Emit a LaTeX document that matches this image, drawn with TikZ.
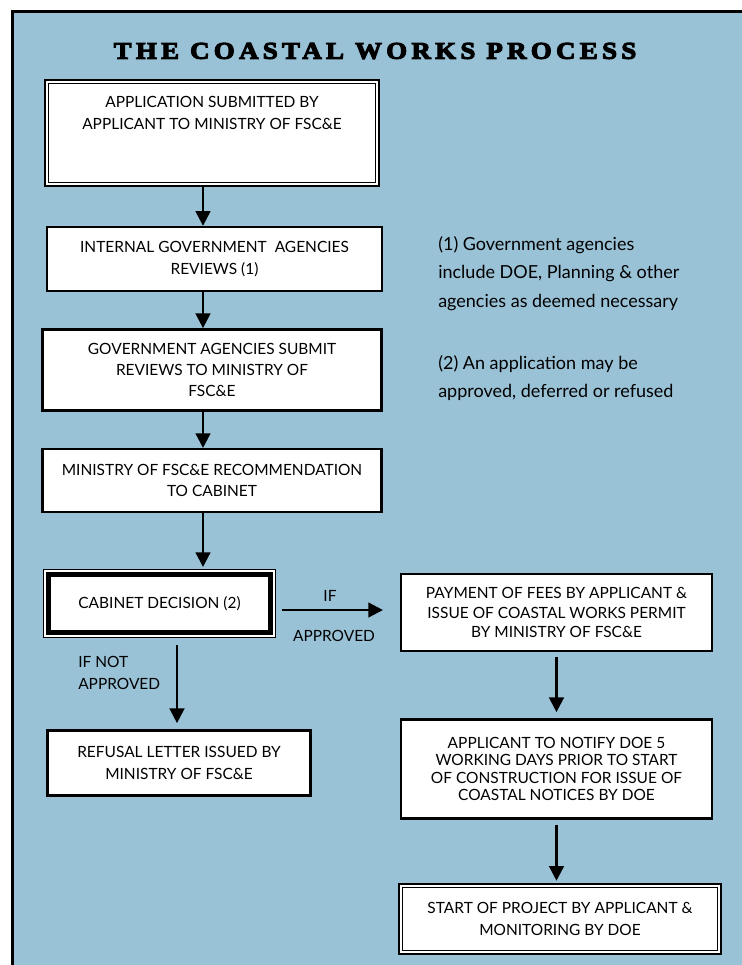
\documentclass[tikz,border=0pt]{standalone}
\usepackage{fontspec}
\setmainfont{Lato}
\newfontfamily\titlefont[LetterSpace=18,FakeStretch=1.12,BoldFeatures={FakeBold=4.5}]{Liberation Serif}
\usetikzlibrary{arrows.meta,positioning}
\definecolor{seablue}{RGB}{154,194,214}

\tikzset{
	procbox/.style={draw, fill=white, line width=1.8pt, align=center, inner sep=0pt, font=\fontsize{11.6}{16}\selectfont},
	twinbox/.style={procbox, line width=1.4pt, double=white, double distance=1.4pt},
	flowarrow/.style={line width=1.8pt, -{Triangle[width=11pt,length=11pt]}},
	lbl/.style={inner sep=0pt, font=\fontsize{11.6}{16.5}\selectfont},
	note/.style={inner sep=0pt, align=left, font=\fontsize{13.5}{21.4}\selectfont},
}

\begin{document}
\begin{tikzpicture}[x=0.75pt, y=-0.75pt]
		\clip (0,0) rectangle (742,965);
		\fill[seablue] (12.5,11.5) rectangle (760,980);
		\draw[line width=2pt] (12.5,980) -- (12.5,11.5) -- (760,11.5);
		\node (title) at (375,51) {\titlefont\bfseries\fontsize{18}{20}\selectfont THE COASTAL WORKS PROCESS};
		% left column
		\node [twinbox, minimum width=248pt, minimum height=77pt] (app) at (212,133) {APPLICATION SUBMITTED BY\\APPLICANT TO MINISTRY OF FSC\&E\\[9.5pt]\strut};
		\node [procbox, minimum width=251pt, minimum height=48pt] (internal) at (214.5,259) {INTERNAL GOVERNMENT\ \ AGENCIES\\REVIEWS (1)};
		\node [procbox, minimum width=254.5pt, minimum height=61pt] (submit) at (212,370) {GOVERNMENT AGENCIES SUBMIT\\REVIEWS TO MINISTRY OF\\FSC\&E};
		\node [procbox, minimum width=254.5pt, minimum height=47pt] (recommend) at (212,480.5) {MINISTRY OF FSC\&E RECOMMENDATION\\TO CABINET};
		\node [procbox, line width=0.8pt, minimum width=174pt, minimum height=51pt] (cabinet) at (159.5,603.5) {CABINET DECISION (2)};
		\draw [line width=3.75pt] ([shift={(4.15pt,4.15pt)}]cabinet.south west) rectangle ([shift={(-4.15pt,-4.15pt)}]cabinet.north east);
		\node [procbox, minimum width=197.5pt, minimum height=49pt] (refusal) at (179,763) {REFUSAL LETTER ISSUED BY\\MINISTRY OF FSC\&E};
		% right column
		\node [procbox, minimum width=233pt, minimum height=57.5pt, font=\fontsize{11.6}{14.6}\selectfont] (payment) at (556.5,612.5) {PAYMENT OF FEES BY APPLICANT \&\\ISSUE OF COASTAL WORKS PERMIT\\BY MINISTRY OF FSC\&E};
		\node [procbox, minimum width=233pt, minimum height=74.5pt, font=\fontsize{11.6}{13.2}\selectfont] (notify) at (556.5,769) {APPLICANT TO NOTIFY DOE 5\\WORKING DAYS PRIOR TO START\\OF CONSTRUCTION FOR ISSUE OF\\COASTAL NOTICES BY DOE};
		\node [twinbox, minimum width=239pt, minimum height=50pt] (start) at (560,919) {START OF PROJECT BY APPLICANT \&\\MONITORING BY DOE};
		% notes
		\node [note, anchor=north west] (note1) at (438,236) {(1) Government agencies\\include DOE, Planning \& other\\agencies as deemed necessary};
		\node [note, anchor=north west] (note2) at (438,355) {(2) An application may be\\approved, deferred or refused};
		% arrows
		\coordinate (spine) at (203,0);
		\coordinate (nopath) at (177,0);
		\coordinate (yesrow) at (0,610);
		\draw [flowarrow] (app.south -| spine) -- (internal.north -| spine);
		\draw [flowarrow] (internal.south -| spine) -- (submit.north -| spine);
		\draw [flowarrow] (submit.south -| spine) -- (recommend.north -| spine);
		\draw [flowarrow, shorten >=1.5pt] (recommend.south -| spine) -- (cabinet.north -| spine);
		\draw [flowarrow, shorten <=5.3pt, shorten >=4.5pt] (cabinet.south -| nopath) -- (refusal.north -| nopath);
		\draw [flowarrow, shorten <=4.6pt, shorten >=12.75pt] (cabinet.east |- yesrow) -- (payment.west |- yesrow);
		\draw [flowarrow, shorten <=3.75pt, shorten >=4.5pt] (payment) -- (notify);
		\draw [flowarrow, shorten <=3.75pt, shorten >=3pt] (notify.south) -- (notify.south |- start.north);
		\node [lbl] (ifyes) at (330,596) {IF};
		\node [lbl] (ifyes2) at (334,636) {APPROVED};
		\node [lbl, align=left, anchor=west] (ifno) at (78,673) {IF NOT\\APPROVED};
\end{tikzpicture}
\end{document}
